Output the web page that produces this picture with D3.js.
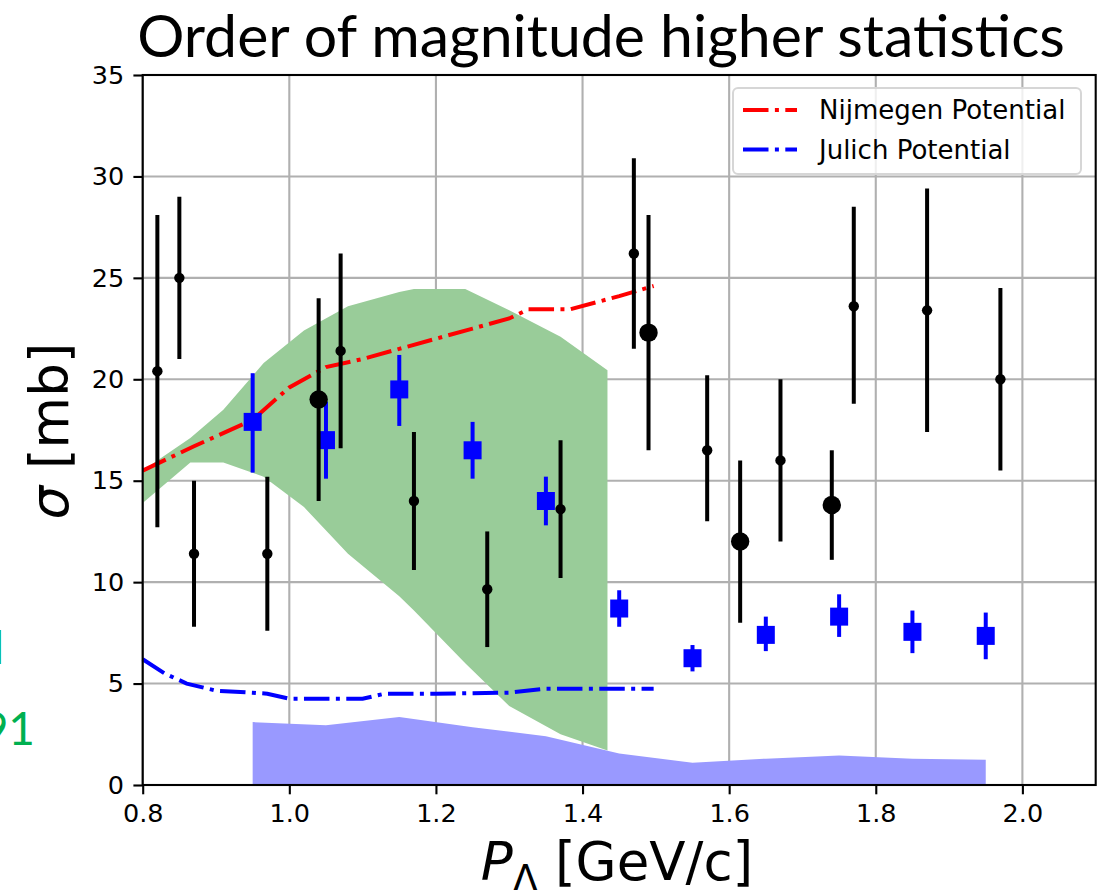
<!DOCTYPE html>
<html>
<head>
<meta charset="utf-8">
<script src="https://cdn.jsdelivr.net/npm/d3@7"></script>
<style>
  body { margin: 0; background: #fff; }
  svg { display: block; font-family: "DejaVu Sans", sans-serif; }
</style>
</head>
<body>
<svg id="chart" width="1109" height="890"></svg>
<script>
// data
const dataX = [0.82, 0.85, 0.87, 0.97, 1.04, 1.07, 1.17, 1.27, 1.37, 1.47, 1.49, 1.57, 1.615, 1.67, 1.74, 1.77, 1.87, 1.97];
const dataY = [20.4, 25.0, 11.4, 11.4, 19.0, 21.4, 14.0, 9.65, 13.6, 26.2, 22.3, 16.5, 12.0, 16.0, 13.8, 23.6, 23.4, 20.0];
const dataLo = [12.7, 21.0, 7.8, 7.6, 14.0, 16.6, 10.6, 6.8, 10.2, 21.5, 16.5, 13.0, 8.0, 12.0, 11.1, 18.8, 17.4, 15.5];
const dataHi = [28.1, 29.0, 15.0, 15.2, 24.0, 26.2, 17.4, 12.5, 17.0, 30.9, 28.1, 20.2, 16.0, 20.0, 16.5, 28.5, 29.4, 24.5];
const dataBig = [false, false, false, false, true, false, false, false, false, false, true, false, true, false, true, false, false, false];

const simX = [0.95, 1.05, 1.15, 1.25, 1.35, 1.45, 1.55, 1.65, 1.75, 1.85, 1.95];
const simY = [17.9, 17.0, 19.5, 16.5, 14.0, 8.7, 6.25, 7.4, 8.3, 7.55, 7.35];
const simLo = [15.4, 15.1, 17.7, 15.1, 12.8, 7.8, 5.6, 6.6, 7.3, 6.5, 6.2];
const simHi = [20.3, 18.9, 21.2, 17.9, 15.2, 9.6, 6.9, 8.3, 9.4, 8.6, 8.5];
const sysBand = [3.1, 2.95, 3.35, 2.85, 2.4, 1.55, 1.1, 1.3, 1.45, 1.3, 1.25];

const bandX = [0.8, 0.865, 0.91, 0.965, 1.02, 1.08, 1.15, 1.17, 1.24, 1.3, 1.37, 1.434];
const bandHi = [15.5, 17.1, 18.5, 20.8, 22.4, 23.6, 24.3, 24.45, 24.45, 23.4, 22.1, 20.45];
const bandLo = [13.9, 15.9, 15.9, 15.2, 13.7, 11.4, 9.3, 8.6, 6.0, 3.9, 2.5, 1.7];

const nijX = [0.8, 0.87, 0.95, 1.0, 1.05, 1.1, 1.15, 1.2, 1.25, 1.3, 1.326, 1.383, 1.45, 1.497];
const nijY = [15.5, 16.7, 18.0, 19.6, 20.6, 21.0, 21.5, 22.0, 22.5, 23.0, 23.45, 23.45, 24.1, 24.6];
const julX = [0.8, 0.83, 0.86, 0.9, 0.95, 0.97, 1.0, 1.05, 1.1, 1.13, 1.2, 1.3, 1.35, 1.4, 1.45, 1.497];
const julY = [6.2, 5.5, 5.0, 4.65, 4.55, 4.5, 4.25, 4.25, 4.25, 4.5, 4.5, 4.55, 4.75, 4.75, 4.75, 4.75];

const xTicks = [0.8, 1.0, 1.2, 1.4, 1.6, 1.8, 2.0];
const yTicks = [0, 5, 10, 15, 20, 25, 30, 35];
const legendNames = ["Nijmegen Potential", "Julich Potential"];
const legendColors = ["#ff0000", "#0000ff"];

const svg = d3.select("#chart");
const plotLeft = 142.7, plotRight = 1095.7, plotTop = 75, plotBottom = 785;

const x = d3.scaleLinear().domain([0.8, 2.1]).range([plotLeft, plotRight]);
const y = d3.scaleLinear().domain([0, 35]).range([plotBottom, plotTop]);

// grid
const grid = svg.append("g").attr("stroke", "#b0b0b0").attr("stroke-width", 2.1);
grid.selectAll("line.gx").data(xTicks).enter().append("line")
    .attr("x1", d => x(d)).attr("x2", d => x(d)).attr("y1", plotTop).attr("y2", plotBottom);
grid.selectAll("line.gy").data(yTicks).enter().append("line")
    .attr("x1", plotLeft).attr("x2", plotRight).attr("y1", d => y(d)).attr("y2", d => y(d));

// green band
const band = bandX.map((v, i) => ({x: v, lo: bandLo[i], hi: bandHi[i]}));
svg.append("path").datum(band)
    .attr("fill", "#99cc99")
    .attr("d", d3.area().x(d => x(d.x)).y0(d => y(d.lo)).y1(d => y(d.hi)));

// systematic band at the bottom
const sys = simX.map((v, i) => ({x: v, v: sysBand[i]}));
svg.append("path").datum(sys)
    .attr("fill", "#9999ff")
    .attr("d", d3.area().x(d => x(d.x)).y0(y(0)).y1(d => y(d.v)));

// potentials
const lineGen = d3.line().x(d => x(d[0])).y(d => y(d[1]));
const dashDot = "25.5,6.4,4,6.4";
svg.append("path").datum(nijX.map((v, i) => [v, nijY[i]]))
    .attr("fill", "none").attr("stroke", "#ff0000").attr("stroke-width", 4)
    .attr("stroke-dasharray", dashDot).attr("d", lineGen);
svg.append("path").datum(julX.map((v, i) => [v, julY[i]]))
    .attr("fill", "none").attr("stroke", "#0000ff").attr("stroke-width", 4)
    .attr("stroke-dasharray", dashDot).attr("d", lineGen);

// blue squares with error bars
const sim = simX.map((v, i) => ({x: v, y: simY[i], lo: simLo[i], hi: simHi[i]}));
const simG = svg.append("g");
simG.selectAll("line").data(sim).enter().append("line")
    .attr("x1", d => x(d.x)).attr("x2", d => x(d.x))
    .attr("y1", d => y(d.lo)).attr("y2", d => y(d.hi))
    .attr("stroke", "#0000ff").attr("stroke-width", 4);
simG.selectAll("rect").data(sim).enter().append("rect")
    .attr("x", d => x(d.x) - 9).attr("y", d => y(d.y) - 9)
    .attr("width", 18).attr("height", 18).attr("fill", "#0000ff");

// black data points
const pts = dataX.map((v, i) => ({x: v, y: dataY[i], lo: dataLo[i], hi: dataHi[i], big: dataBig[i]}));
const ptG = svg.append("g");
ptG.selectAll("line").data(pts).enter().append("line")
    .attr("x1", d => x(d.x)).attr("x2", d => x(d.x))
    .attr("y1", d => y(d.lo)).attr("y2", d => y(d.hi))
    .attr("stroke", "#000").attr("stroke-width", 4);
ptG.selectAll("circle").data(pts).enter().append("circle")
    .attr("cx", d => x(d.x)).attr("cy", d => y(d.y))
    .attr("r", d => d.big ? 9.2 : 5.2).attr("fill", "#000");

// axes
const xAxis = svg.append("g").attr("transform", `translate(0,${plotBottom})`)
    .call(d3.axisBottom(x).tickValues(xTicks).tickFormat(d3.format(".1f")).tickSize(9.3).tickPadding(9.3));
const yAxis = svg.append("g").attr("transform", `translate(${plotLeft},0)`)
    .call(d3.axisLeft(y).tickValues(yTicks).tickFormat(d3.format("d")).tickSize(9.3).tickPadding(9.3));
[xAxis, yAxis].forEach(a => {
    a.select(".domain").remove();
    a.selectAll(".tick line").attr("stroke", "#000").attr("stroke-width", 2.1);
    a.selectAll(".tick text").attr("font-size", 25.5).attr("font-family", "DejaVu Sans").attr("fill", "#000");
});

// frame
svg.append("rect").attr("x", plotLeft).attr("y", plotTop)
    .attr("width", plotRight - plotLeft).attr("height", plotBottom - plotTop)
    .attr("fill", "none").attr("stroke", "#000").attr("stroke-width", 2.1);

// legend
const leg = svg.append("g");
leg.append("rect").attr("x", 733).attr("y", 88).attr("width", 348).attr("height", 86)
    .attr("rx", 5).attr("fill", "#fff").attr("fill-opacity", 0.8)
    .attr("stroke", "#d6d6d6").attr("stroke-width", 2);
legendNames.forEach((name, i) => {
    const ly = 110 + i * 39.5;
    leg.append("line").attr("x1", 743).attr("x2", 797).attr("y1", ly).attr("y2", ly)
        .attr("stroke", legendColors[i]).attr("stroke-width", 4).attr("stroke-dasharray", dashDot);
    leg.append("text").attr("x", 819).attr("y", ly + 9).attr("font-size", 26)
        .attr("fill", "#000").text(name);
});

// title
svg.append("text").attr("x", 601).attr("y", 57).attr("text-anchor", "middle")
    .attr("font-family", "Lato, 'Open Sans', sans-serif").attr("font-size", 59).attr("fill", "#000")
    .text("Order of magnitude higher statistics");

// axis labels
const xl = svg.append("text").attr("x", 617).attr("y", 880).attr("text-anchor", "middle")
    .attr("font-size", 53).attr("fill", "#000");
xl.append("tspan").attr("font-style", "italic").text("P");
xl.append("tspan").attr("font-size", 37).attr("dy", 11).text("Λ");
xl.append("tspan").attr("dy", -11).text(" [GeV/c]");

const yl = svg.append("text").attr("transform", "translate(68,431) rotate(-90)").attr("text-anchor", "middle")
    .attr("font-size", 53).attr("fill", "#000");
yl.append("tspan").attr("font-style", "italic").text("σ");
yl.append("tspan").text(" [mb]");

// green annotation cut off at the left edge
svg.append("text").attr("x", 4).attr("y", 664).attr("text-anchor", "end")
    .attr("font-family", "Lato, 'Open Sans', sans-serif").attr("font-size", 46).attr("fill", "#00b050")
    .text("et al");
svg.append("text").attr("x", 35).attr("y", 745).attr("text-anchor", "end")
    .attr("font-family", "Lato, 'Open Sans', sans-serif").attr("font-size", 46).attr("fill", "#00b050")
    .text("1991");
</script>
</body>
</html>
